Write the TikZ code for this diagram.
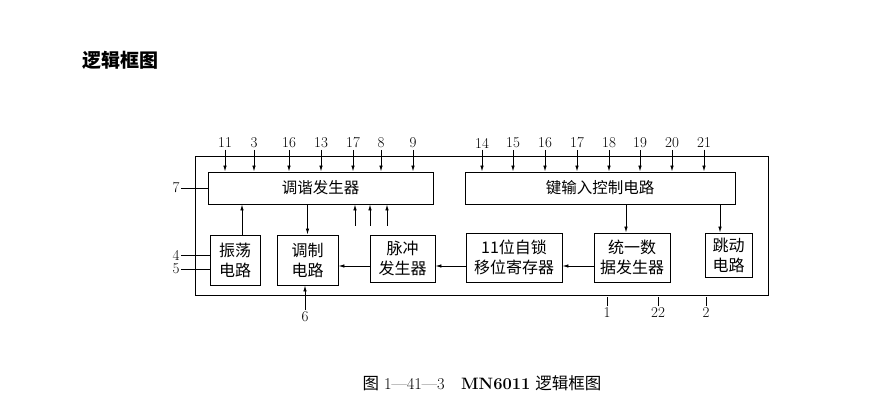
\documentclass[tikz,border=0pt]{standalone}
\usepackage{fontspec}
\newfontfamily\cjk{Noto Sans CJK SC}
\usepackage{tikz}
\usetikzlibrary{positioning,arrows.meta}
\tikzset{
  blk/.style={draw=black,line width=0.9pt,align=center,inner sep=0pt,
    font=\cjk\fontsize{16}{20}\selectfont},
  wideblk/.style={blk,minimum height=32,font=\cjk\fontsize{15.5}{18}\selectfont},
  pinlabel/.style={font=\fontsize{15}{15}\selectfont,inner sep=1.5pt},
  arr/.style={-{Latex[length=6pt,width=3.5pt]},line width=0.8pt,draw=black},
  wire/.style={line width=0.8pt,draw=black}
}

\begin{document}
\begin{tikzpicture}[x=1pt,y=-1pt]
  \useasboundingbox (0,0) rectangle (896,403);
  \fill[white] (0,0) rectangle (896,403);

  \node[anchor=west,font=\cjk\bfseries\fontsize{19}{19}\selectfont] (title) at (79,60) {逻辑框图};

  % chip outline
  \coordinate (fnw) at (195,156);
  \coordinate (fse) at (768,295);
  \draw[wire] (fnw) rectangle (fse);

  % blocks
  \node[wideblk, minimum width=225] (tune) at (320.5,188) {调谐发生器};
  \node[wideblk, minimum width=270] (keyin) at (600,188) {键输入控制电路};
  \node[blk, minimum width=50, minimum height=50] (osc) at (235,260) {振荡\\电路};
  \node[blk, minimum width=61, minimum height=50] (mod) at (307.5,260) {调制\\电路};
  \node[blk, minimum width=65, minimum height=47] (pulse) at (402.5,258.5) {脉冲\\发生器};
  \node[blk, minimum width=96, minimum height=49] (shift) at (514,257.5) {11位自锁\\移位寄存器};
  \node[blk, minimum width=76, minimum height=49] (data) at (632,257.5) {统一数\\据发生器};
  \node[blk, minimum width=47, minimum height=44] (jump) at (728.5,255) {跳动\\电路};

  % pins on top
  \foreach \x/\n [count=\k] in {225/11,254/3,289/16,321/13,353/17,381/8,413/9} {
    \node[pinlabel] (a\k) at (\x,143) {\n};
    \draw[arr] (a\k) -- (a\k |- tune.north);
  }
  \foreach \x/\n [count=\k] in {482/14,513/15,545/16,577/17,609/18,640/19,672/20,704/21} {
    \node[pinlabel] (b\k) at (\x,143) {\n};
    \draw[arr] (b\k) -- (b\k |- keyin.north);
  }

  % pins left and below
  \node[pinlabel] (p7) at (176,188) {7};
  \draw[wire] (p7) -- (tune.west);
  \node[pinlabel] (p4) at (176,255) {4};
  \draw[wire] (p4) -- (p4 -| osc.west);
  \node[pinlabel] (p5) at (176,269) {5};
  \draw[wire] (p5) -- (p5 -| osc.west);
  \node[pinlabel] (p6) at (305,317) {6};
  \draw[arr] (p6) -- (p6 |- mod.south);
  \foreach \x/\n in {607/1,658/22,706/2} {
    \node[pinlabel] (c\n) at (\x,313) {\n};
    \draw[wire] (c\n) -- ++(0,-16);
  }

  % inner connections
  \draw[arr] ([xshift=7]osc.north) -- ([xshift=7]osc.north |- tune.south);
  \draw[arr] (mod.north |- tune.south) -- (mod.north);
  \foreach \x [count=\k] in {355,370,387} {
    \coordinate (u\k) at (\x,226);
    \draw[arr] (u\k) -- (u\k |- tune.south);
  }
  \coordinate (ly) at (0,266);
  \draw[arr] (pulse.west |- ly) -- (mod.east |- ly);
  \draw[arr] (shift.west |- ly) -- (pulse.east |- ly);
  \draw[arr] (data.west |- ly) -- (shift.east |- ly);
  \draw[arr] ([xshift=-6]data.north |- keyin.south) -- ([xshift=-6]data.north);
  \draw[arr] ([xshift=-8.5]jump.north |- keyin.south) -- ([xshift=-8.5]jump.north);

  \node[font=\fontsize{16.5}{16.5}\selectfont] (cap) at (482,383)
    {{\cjk 图} 1—41—3\quad \textbf{MN6011} {\cjk 逻辑框图}};
\end{tikzpicture}
\end{document}
